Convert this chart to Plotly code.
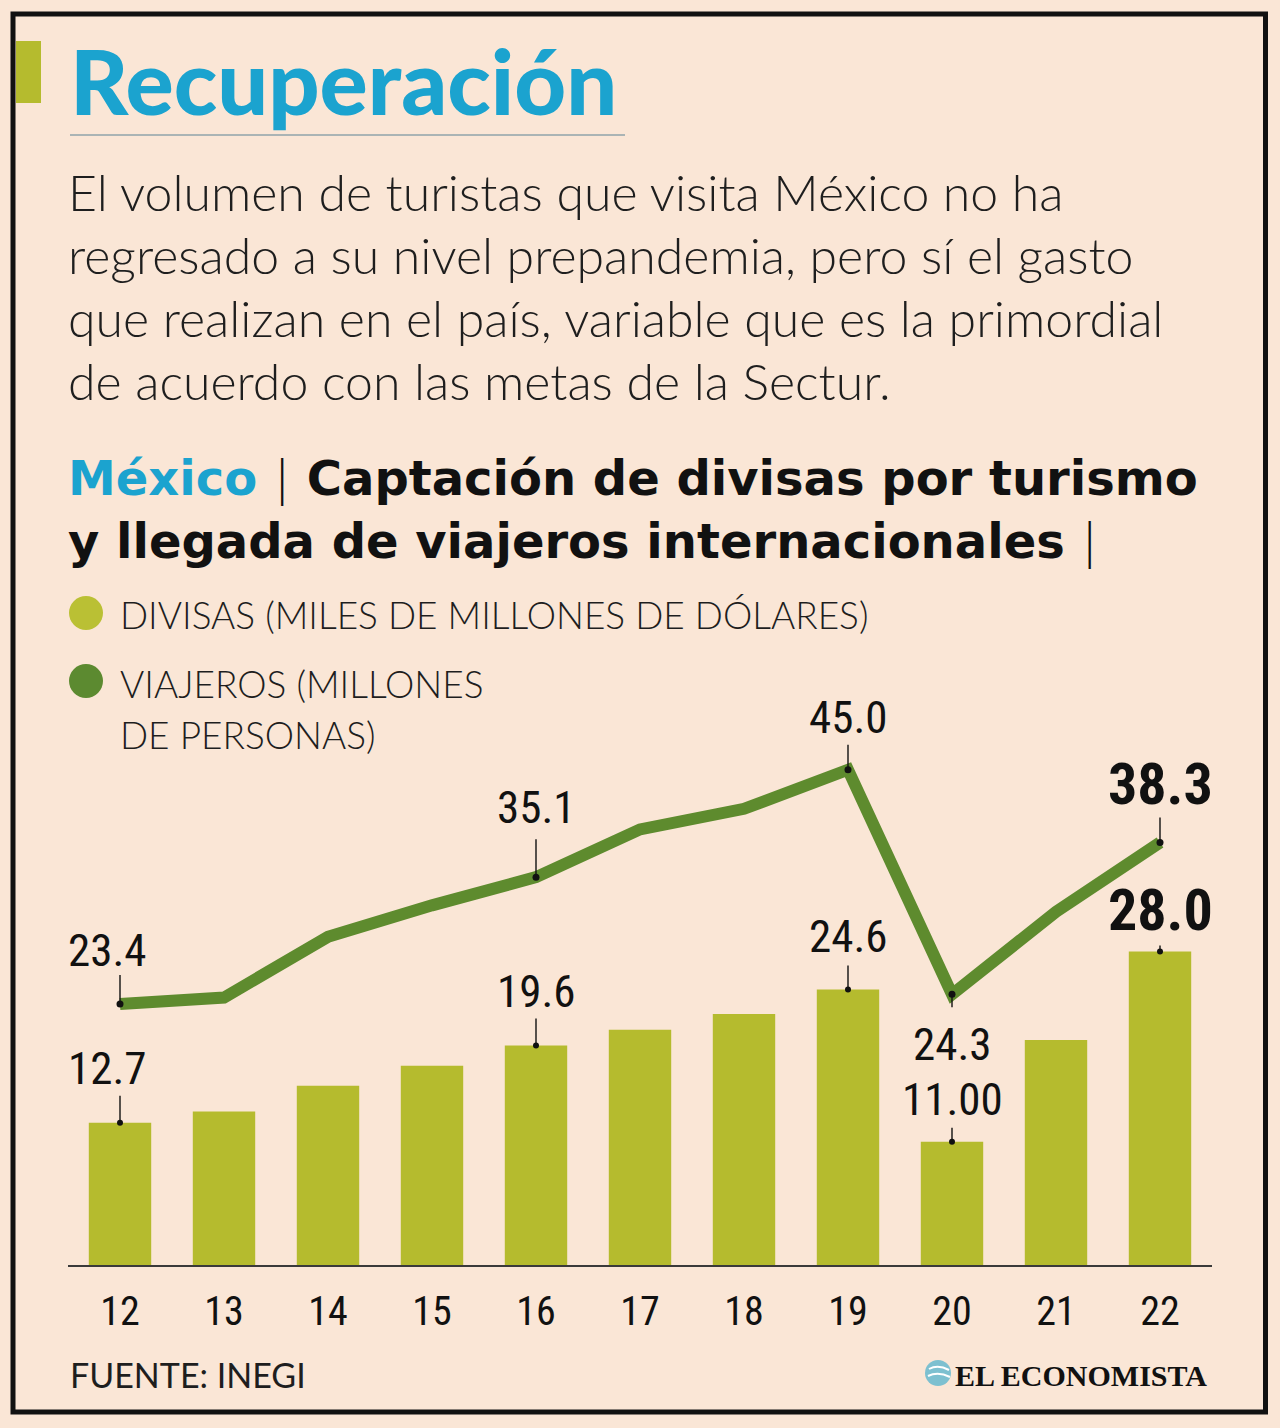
import plotly.graph_objects as go

W, H = 1280, 1428

# ---------------- data ----------------
years = ["12", "13", "14", "15", "16", "17", "18", "19", "20", "21", "22"]
divisas = [12.7, 13.7, 16.0, 17.8, 19.6, 21.0, 22.4, 24.6, 11.0, 20.1, 28.0]
viajeros = [23.4, 24.0, 29.6, 32.5, 35.1, 39.5, 41.4, 45.0, 24.3, 31.9, 38.3]

divisas_labels = {0: "12.7", 4: "19.6", 7: "24.6", 8: "11.00", 10: "28.0"}
viajeros_labels = {0: "23.4", 4: "35.1", 7: "45.0", 8: "24.3", 10: "38.3"}

title = "Recuperación"
body = [
    "El volumen de turistas que visita México no ha",
    "regresado a su nivel prepandemia, pero sí el gasto",
    "que realizan en el país, variable que es la primordial",
    "de acuerdo con las metas de la Sectur.",
]
legend_div = "DIVISAS (MILES DE MILLONES DE DÓLARES)"
legend_via = ["VIAJEROS (MILLONES", "DE PERSONAS)"]
source = "FUENTE: INEGI"
brand = "EL ECONOMISTA"

# ---------------- styles ----------------
BG = "#FAE6D6"
BAR = "#B5BB2E"
LINE = "#5E8B2E"
CYAN = "#1BA3CF"
TXT = "#1E1E1E"
SANS = "Lato, 'Noto Sans', sans-serif"
HEAVY = "'DejaVu Sans', sans-serif"
NARROW = "'Liberation Sans Narrow', 'Roboto Condensed', 'DejaVu Sans Condensed', 'Arial Narrow', sans-serif"


def px(x):
    return x / W


def py(y):
    return 1 - y / H


# plot geometry (pixels)
X0, X1 = 68, 1212
YB, YT = 1265, 700
bar_scale = 11.2          # px per unit
line_zero, line_scale = 1258, 10.85

y_range = [0, (YB - YT) / bar_scale]
y2_range = [(line_zero - YB) / line_scale, (line_zero - YT) / line_scale]

fig = go.Figure()

fig.add_trace(go.Bar(
    x=years, y=divisas, marker=dict(color=BAR, line=dict(width=0)),
    width=0.6, yaxis="y", hoverinfo="skip", showlegend=False,
))
fig.add_trace(go.Scatter(
    x=years, y=viajeros, yaxis="y2", mode="lines",
    line=dict(color=LINE, width=12), hoverinfo="skip", showlegend=False,
))
# dots at labelled points
fig.add_trace(go.Scatter(
    x=[years[i] for i in viajeros_labels], y=[viajeros[i] for i in viajeros_labels],
    yaxis="y2", mode="markers", marker=dict(color="#111", size=7),
    hoverinfo="skip", showlegend=False,
))
fig.add_trace(go.Scatter(
    x=[years[i] for i in divisas_labels], y=[divisas[i] for i in divisas_labels],
    yaxis="y", mode="markers", marker=dict(color="#111", size=6),
    hoverinfo="skip", showlegend=False,
))

ann = []
shapes = []

# value labels: (leader length px, label centre shift px, x shift px)
div_pos = {0: (27, 54, -13), 4: (27, 54, 0), 7: (24, 53, 0), 8: (14, 42, 0), 10: (6, 41, 0)}
via_pos = {0: (29, 54, -13), 4: (38, 70, 0), 7: (25, 52, 0), 8: (-13, -50, 0), 10: (25, 58, 0)}

for labels, vals, pos, yref in ((divisas_labels, divisas, div_pos, "y"),
                                (viajeros_labels, viajeros, via_pos, "y2")):
    for i, t in labels.items():
        bold = i == len(years) - 1
        lead, shift, xs = pos[i]
        shapes.append(dict(type="line", xref="x", yref=yref, ysizemode="pixel",
                           yanchor=vals[i], x0=i, x1=i, y0=0, y1=lead,
                           line=dict(color="#111", width=1.4)))
        ann.append(dict(
            x=i, y=vals[i], xref="x", yref=yref, text=t, showarrow=False,
            xanchor="center", yanchor="middle", yshift=shift, xshift=xs,
            font=dict(family=NARROW, size=58 if bold else 45, color="#111",
                      weight=700 if bold else 400),
        ))

# title
ann.append(dict(x=px(68), y=py(80), xref="paper", yref="paper", xanchor="left",
                yanchor="middle", showarrow=False, text=title,
                font=dict(family=SANS, size=90, color=CYAN, weight=900)))

# body text
for k, line in enumerate(body):
    ann.append(dict(x=px(66), y=py(192 + 63 * k), xref="paper", yref="paper",
                    xanchor="left", yanchor="middle", showarrow=False, text=line,
                    font=dict(family=SANS, size=50, color=TXT, weight=300)))

# chart subtitle
sub1 = (f"<span style='color:{CYAN}'>México</span> "
        "<span style='font-weight:200'>|</span> Captación de divisas por turismo")
sub2 = "y llegada de viajeros internacionales <span style='font-weight:200'>|</span>"
ann.append(dict(x=px(66), y=py(478), xref="paper", yref="paper", xanchor="left",
                yanchor="middle", showarrow=False, text=sub1,
                font=dict(family=HEAVY, size=48, color="#111", weight=700)))
ann.append(dict(x=px(66), y=py(541), xref="paper", yref="paper", xanchor="left",
                yanchor="middle", showarrow=False, text=sub2,
                font=dict(family=HEAVY, size=48, color="#111", weight=700)))

# legend texts
ann.append(dict(x=px(118), y=py(614), xref="paper", yref="paper", xanchor="left",
                yanchor="middle", showarrow=False, text=legend_div,
                font=dict(family=SANS, size=37, color=TXT, weight=300)))
ann.append(dict(x=px(118), y=py(683), xref="paper", yref="paper", xanchor="left",
                yanchor="middle", showarrow=False, text=legend_via[0],
                font=dict(family=SANS, size=37, color=TXT, weight=300)))
ann.append(dict(x=px(118), y=py(735), xref="paper", yref="paper", xanchor="left",
                yanchor="middle", showarrow=False, text=legend_via[1],
                font=dict(family=SANS, size=37, color=TXT, weight=300)))

# footer
ann.append(dict(x=px(68), y=py(1374), xref="paper", yref="paper", xanchor="left",
                yanchor="middle", showarrow=False, text=source,
                font=dict(family=SANS, size=34, color=TXT, weight=400)))
ann.append(dict(x=px(1209), y=py(1375), xref="paper", yref="paper", xanchor="right",
                yanchor="middle", showarrow=False, text=brand,
                font=dict(family="'Liberation Serif', 'DejaVu Serif', serif", size=30,
                          color="#111", weight=700)))

shapes += [
    # frame
    dict(type="rect", xref="paper", yref="paper", x0=px(13), x1=px(1265.5),
         y0=py(1412), y1=py(14), line=dict(color="#111", width=5)),
    # green accent bar
    dict(type="rect", xref="paper", yref="paper", x0=px(16), x1=px(41),
         y0=py(103), y1=py(41), fillcolor=BAR, line=dict(width=0)),
    # underline of title
    dict(type="line", xref="paper", yref="paper", x0=px(70), x1=px(625),
         y0=py(135), y1=py(135), line=dict(color="#8FA3AA", width=1.5)),
    # legend dots
    dict(type="circle", xref="paper", yref="paper", x0=px(69), x1=px(103),
         y0=py(630), y1=py(596), fillcolor="#BAC034", line=dict(width=0)),
    dict(type="circle", xref="paper", yref="paper", x0=px(69), x1=px(103),
         y0=py(698), y1=py(664), fillcolor="#5C8A30", line=dict(width=0)),
    # brand logo
    dict(type="circle", xref="paper", yref="paper", x0=px(925), x1=px(951),
         y0=py(1386), y1=py(1360), fillcolor="#7DC0D0", line=dict(width=0)),
    dict(type="path", xref="paper", yref="paper",
         path=f"M {px(929)} {py(1369)} Q {px(938)} {py(1364)} {px(949)} {py(1370)}",
         line=dict(color="white", width=2)),
    dict(type="path", xref="paper", yref="paper",
         path=f"M {px(928)} {py(1376)} Q {px(938)} {py(1371)} {px(950)} {py(1377)}",
         line=dict(color="white", width=2)),
]

hidden = dict(showgrid=False, zeroline=False, showline=False, ticks="",
              showticklabels=False, fixedrange=True)

fig.update_layout(
    width=W, height=H, margin=dict(l=0, r=0, t=0, b=0),
    paper_bgcolor=BG, plot_bgcolor="rgba(0,0,0,0)",
    xaxis=dict(domain=[px(X0), px(X1)], type="category", range=[-0.5, 10.5],
               showline=True, linecolor="#3A3A3A", linewidth=1.5,
               showgrid=False, zeroline=False, ticks="", ticklabelstandoff=10,
               tickfont=dict(family=NARROW, size=40, color="#111"), fixedrange=True),
    yaxis=dict(domain=[py(YB), py(YT)], range=y_range, **hidden),
    yaxis2=dict(domain=[py(YB), py(YT)], range=y2_range, overlaying="y", **hidden),
    annotations=ann, shapes=shapes, bargap=0.4, showlegend=False,
)

fig.write_html("out.html", config={"displayModeBar": False},
               post_script="document.body.style.margin='0';document.body.style.padding='0';")
